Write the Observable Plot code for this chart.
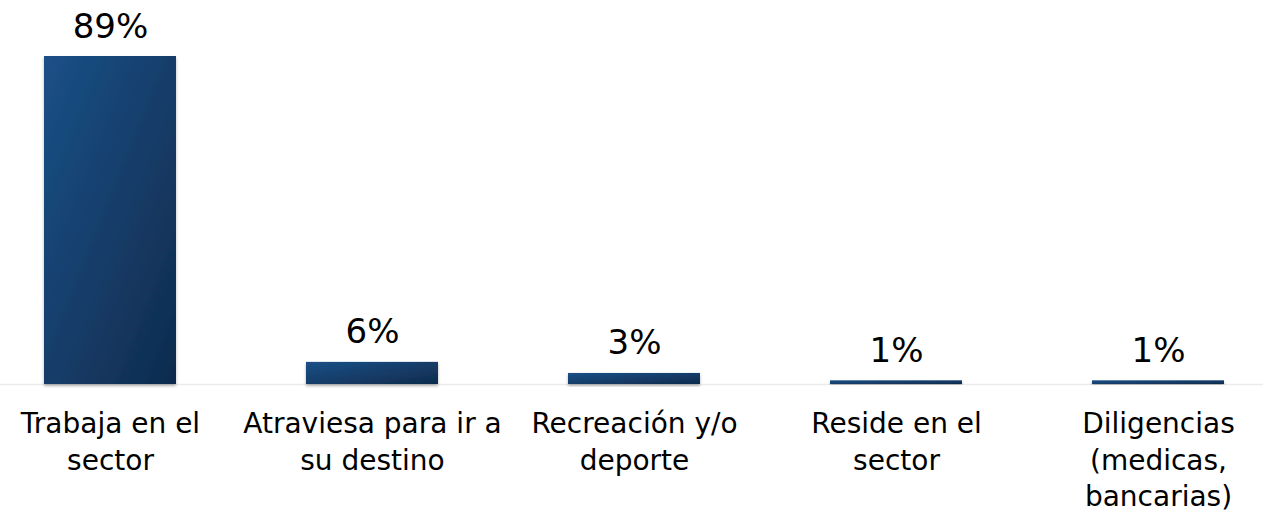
<!DOCTYPE html>
<html>
<head>
<meta charset="utf-8">
<script src="https://cdn.jsdelivr.net/npm/d3@7"></script>
<script src="https://cdn.jsdelivr.net/npm/@observablehq/plot@0.6"></script>
<style>
  html, body { margin: 0; padding: 0; background: #ffffff; }
  #chart svg { display: block; }
</style>
</head>
<body>
<div id="chart"></div>
<script>
const categories = [
  "Trabaja en el\nsector",
  "Atraviesa para ir a\nsu destino",
  "Recreación y/o\ndeporte",
  "Reside en el\nsector",
  "Diligencias\n(medicas,\nbancarias)"
];
const values = [89, 6, 3, 1, 1];
const valueLabels = ["89%", "6%", "3%", "1%", "1%"];

const data = categories.map((c, i) => ({category: c, value: values[i], label: valueLabels[i]}));

const defs = () => {
  const g = d3.create("svg:defs");
  const lg = g.append("linearGradient")
    .attr("id", "barGrad")
    .attr("x1", "0").attr("y1", "0").attr("x2", "1").attr("y2", "1");
  lg.append("stop").attr("offset", "0%").attr("stop-color", "#1b5087");
  lg.append("stop").attr("offset", "100%").attr("stop-color", "#0f2b4d");
  const f = g.append("filter").attr("id", "barShadow")
    .attr("x", "-10%").attr("y", "-10%").attr("width", "120%").attr("height", "130%");
  f.append("feDropShadow")
    .attr("dx", 0).attr("dy", 2).attr("stdDeviation", 1.5)
    .attr("flood-color", "#000").attr("flood-opacity", 0.3);
  return g.node();
};

const font = "'DejaVu Sans', sans-serif";

const chart = Plot.plot({
  width: 1263,
  height: 513,
  marginTop: 56,
  marginBottom: 129,
  marginLeft: 0,
  marginRight: 0,
  style: {fontFamily: font, background: "#ffffff"},
  x: {domain: categories, range: [42, 1226], paddingInner: 0.496, paddingOuter: 0, axis: null},
  y: {domain: [0, 89], axis: null},
  marks: [
    defs,
    Plot.ruleY([0], {stroke: "#ececec", strokeWidth: 1.5}),
    Plot.barY(data, {x: "category", y: "value", fill: "url(#barGrad)"}),
    Plot.text(data, {
      x: "category", y: "value", text: "label",
      dy: -19, lineAnchor: "bottom", fontSize: 34, fill: "#000"
    }),
    Plot.text(data, {
      x: "category", y: () => 0, text: "category",
      dy: 23, lineAnchor: "top", fontSize: 28, lineHeight: 1.3, fill: "#000"
    })
  ]
});
chart.querySelectorAll("g[aria-label='bar'] rect").forEach(r => r.setAttribute("filter", "url(#barShadow)"));
document.getElementById("chart").appendChild(chart);
</script>
</body>
</html>
